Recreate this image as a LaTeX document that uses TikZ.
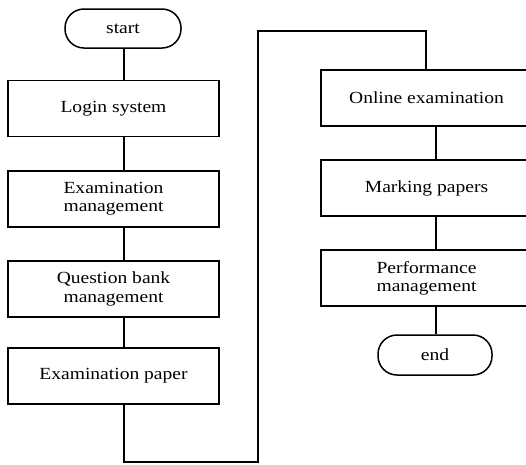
\documentclass[tikz,border=0pt]{standalone}
\usepackage{fontspec}
\setmainfont{Liberation Serif}[FakeStretch=1.15]
\begin{document}
\begin{tikzpicture}[x=1pt,y=-1pt,
  every node/.style={font=\fontsize{17pt}{18.3pt}\selectfont, align=center, inner sep=0pt},
  stepbox/.style={draw, line width=1.5pt, minimum width=211pt, minimum height=56pt},
  terminal/.style={draw, line width=1.5pt, rounded corners=19pt, minimum width=116pt, minimum height=39pt},
  link/.style={line width=1.5pt}]
\useasboundingbox (0,0) rectangle (526,464);
\clip (0,0) rectangle (526,464);

% left column
\node[terminal] (start) at (123,28.5) {start};
\node[stepbox] (login) at (113.5,108.5) {Login system};
\node[stepbox] (exmgmt) at (113.5,199) {Examination\\management};
\node[stepbox] (qbank) at (113.5,289) {Question bank\\management};
\node[stepbox] (paper) at (113.5,376) {Examination paper};

% right column
\node[stepbox] (online) at (426.5,98) {Online examination};
\node[stepbox] (marking) at (426.5,188) {Marking papers};
\node[stepbox] (perf) at (426.5,278) {Performance\\management};
\node[terminal, minimum width=114pt, minimum height=40pt] (end) at (435,355) {end};

% spines of the two columns
\coordinate (lx) at (124,0);
\coordinate (rx) at (436,0);
\coordinate (bottomL) at (124,462);
\coordinate (bottomR) at (258,462);
\coordinate (topL) at (258,31);
\coordinate (topR) at (426,31);

% connectors
\draw[link] (lx |- start.south) -- (lx |- login.north);
\draw[link] (lx |- login.south) -- (lx |- exmgmt.north);
\draw[link] (lx |- exmgmt.south) -- (lx |- qbank.north);
\draw[link] (lx |- qbank.south) -- (lx |- paper.north);
\draw[link] (lx |- paper.south) -- (bottomL) -- (bottomR) -- (topL) -- (topR) -- (topR |- online.north);
\draw[link] (rx |- online.south) -- (rx |- marking.north);
\draw[link] (rx |- marking.south) -- (rx |- perf.north);
\draw[link] (rx |- perf.south) -- (rx |- end.north);
\end{tikzpicture}
\end{document}
